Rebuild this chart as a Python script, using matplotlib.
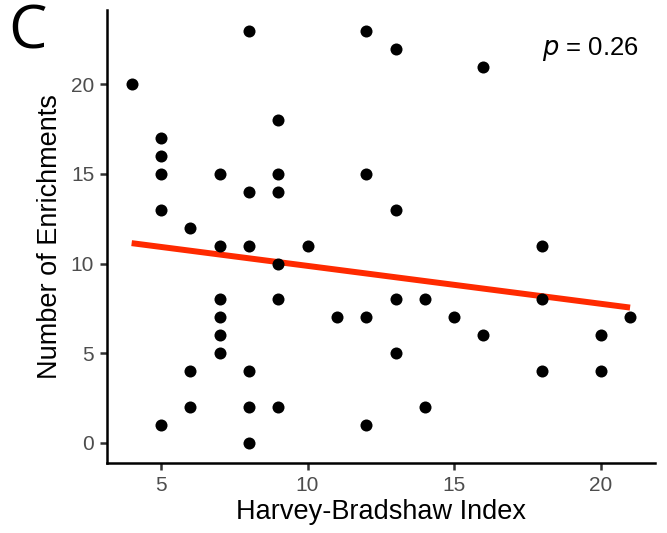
import numpy as np
import matplotlib.pyplot as plt

## Data
hbi = [4,
       5, 5, 5, 5, 5,
       6, 6, 6,
       7, 7, 7, 7, 7, 7,
       8, 8, 8, 8, 8, 8,
       9, 9, 9, 9, 9, 9,
       10, 11,
       12, 12, 12, 12,
       13, 13, 13, 13,
       14, 14, 15,
       16, 16,
       18, 18, 18,
       20, 20, 21]
enrich = [20,
          17, 16, 15, 13, 1,
          12, 4, 2,
          15, 11, 8, 7, 6, 5,
          23, 14, 11, 4, 2, 0,
          18, 15, 14, 10, 8, 2,
          11, 7,
          23, 15, 7, 1,
          22, 13, 8, 5,
          8, 2, 7,
          21, 6,
          11, 8, 4,
          6, 4, 7]
p_label = "0.26"

x = np.array(hbi, dtype=float)
y = np.array(enrich, dtype=float)
slope, intercept = np.polyfit(x, y, 1)

plt.rcParams['font.family'] = ['Liberation Sans', 'DejaVu Sans']

fig = plt.figure(figsize=(6.67, 5.33), dpi=100)
ax = fig.add_axes([0.160, 0.131, 0.822, 0.850])

ax.scatter(x, y, s=75, color='black', zorder=3, linewidths=0)
xs = np.array([x.min(), x.max()])
ax.plot(xs, intercept + slope * xs, color='#FF2A00', lw=4.3, zorder=2,
        solid_capstyle='butt')

# ggplot-like 5% expansion
xr = x.max() - x.min()
yr = y.max() - y.min()
ax.set_xlim(x.min() - 0.05 * xr, x.max() + 0.05 * xr)
ax.set_ylim(y.min() - 0.05 * yr, y.max() + 0.05 * yr)
ax.set_xticks([5, 10, 15, 20])
ax.set_yticks([0, 5, 10, 15, 20])

for s in ['top', 'right']:
    ax.spines[s].set_visible(False)
for s in ['left', 'bottom']:
    ax.spines[s].set_linewidth(1.8)
ax.tick_params(axis='both', labelsize=15, labelcolor='#4D4D4D',
               color='#333333', width=1.8, length=5, pad=4)

ax.set_xlabel("Harvey-Bradshaw Index", fontsize=19.5, labelpad=3)
ax.set_ylabel("Number of Enrichments", fontsize=19.5, labelpad=6)

ax.text(0.97, 0.915, r"$p$ = " + p_label, transform=ax.transAxes,
        ha='right', va='center', fontsize=18.5)
fig.text(0.012, 0.995, "C", fontsize=44, ha='left', va='top',
         family=['Open Sans', 'DejaVu Sans'])

plt.savefig("out.png", dpi=100)
